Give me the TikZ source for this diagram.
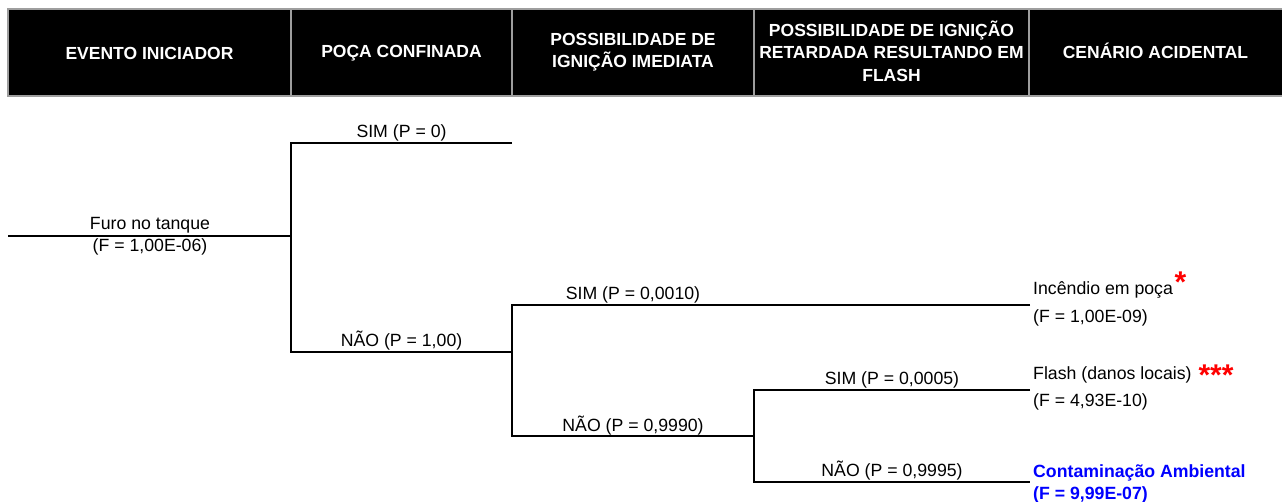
\documentclass[tikz,border=0pt]{standalone}
\usepackage{fontspec}
\setmainfont{Liberation Sans}
\begin{document}
\begin{tikzpicture}[x=1pt,y=1pt]
\tikzset{
 lbl/.style={anchor=base, inner sep=0pt, font=\fontsize{17.7}{21}\selectfont},
 outc/.style={anchor=base west, inner sep=0pt, font=\fontsize{17.7}{21}\selectfont},
 outb/.style={anchor=base west, inner sep=0pt, text=blue, font=\fontsize{17.7}{21}\selectfont\bfseries},
 hdr/.style={align=center, text=white, inner sep=0pt, font=\fontsize{17.5}{22.5}\selectfont\bfseries},
 br/.style={line width=2pt, draw=black},
 hgrid/.style={draw=black!38, line width=2pt},
 redstar/.style={anchor=base, inner sep=0pt, text=red, font=\fontsize{30}{30}\selectfont\bfseries}
}
\useasboundingbox (0,0) rectangle (1282,-502);
\clip (0,0) rectangle (1282,-502);
% header
\fill[black] (8,-9) rectangle (1290,-96.5);
\draw[hgrid] (1290,-9) -- (8,-9) -- (8,-96.5) -- (1290,-96.5);
\foreach \xx in {291,512,754,1029} \draw[hgrid] (\xx,-9) -- (\xx,-96.5);
\node[hdr] (h1) at (149.5,-53) {EVENTO INICIADOR};
\node[hdr] (h2) at (401.5,-53) {POÇA CONFINADA};
\node[hdr] (h3) at (633,-52) {POSSIBILIDADE DE\\IGNIÇÃO IMEDIATA};
\node[hdr] (h4) at (891.5,-51) {POSSIBILIDADE DE IGNIÇÃO\\RETARDADA RESULTANDO EM\\FLASH};
\node[hdr] (h5) at (1155.5,-51) {CENÁRIO ACIDENTAL};
% tree coordinates
\coordinate (s0) at (8,-236);
\coordinate (f1) at (291,-236);
\coordinate (f1t) at (291,-143);
\coordinate (f1b) at (291,-352);
\coordinate (e1) at (512,-143);
\coordinate (f2) at (512,-352);
\coordinate (f2t) at (512,-305);
\coordinate (f2b) at (512,-436);
\coordinate (e2) at (1030,-305);
\coordinate (f3) at (754,-436);
\coordinate (f3t) at (754,-390);
\coordinate (f3b) at (754,-482);
\coordinate (e3) at (1030,-390);
\coordinate (e4) at (1030,-482);
% branches
\draw[br] (s0) -- (f1);
\draw[br] (e1) -- (f1t) -- (f1b) -- (f2);
\draw[br] (e2) -- (f2t) -- (f2b) -- (f3);
\draw[br] (e3) -- (f3t) -- (f3b) -- (e4);
% labels
\node[lbl] (l0a) at (150,-230) {Furo no tanque};
\node[lbl] (l0b) at (150,-252) {(F = 1,00E-06)};
\node[lbl] (l1a) at (401.5,-138) {SIM (P = 0)};
\node[lbl] (l1b) at (401.5,-347) {NÃO (P = 1,00)};
\node[lbl] (l2a) at (633,-300) {SIM (P = 0,0010)};
\node[lbl] (l2b) at (633,-431) {NÃO (P = 0,9990)};
\node[lbl] (l3a) at (892,-384.5) {SIM (P = 0,0005)};
\node[lbl] (l3b) at (892,-476.5) {NÃO (P = 0,9995)};
% outcomes
\node[outc] (o1a) at (1033,-295) {Incêndio em poça};
\node[outc] (o1b) at (1033,-322.5) {(F = 1,00E-09)};
\node[outc] (o2a) at (1033,-380) {Flash (danos locais)};
\node[outc] (o2b) at (1033,-406.5) {(F = 4,93E-10)};
\node[outb] (o3a) at (1033,-477) {Contaminação Ambiental};
\node[outb] (o3b) at (1033,-499) {(F = 9,99E-07)};
\node[redstar] (st1) at (1180.5,-293) {*};
\node[redstar] (st2) at (1216,-385.5) {***};
\end{tikzpicture}
\end{document}
